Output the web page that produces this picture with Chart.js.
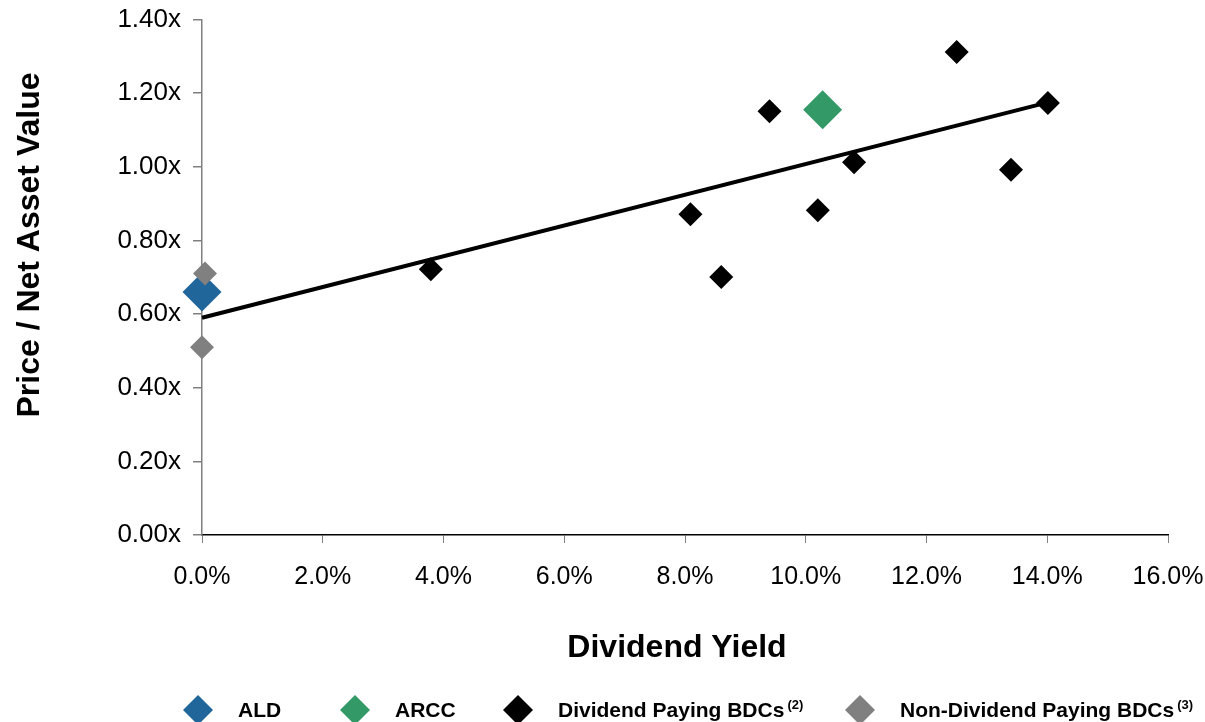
<!DOCTYPE html>
<html>
<head>
<meta charset="utf-8">
<script src="https://cdn.jsdelivr.net/npm/chart.js@4.4.1/dist/chart.umd.min.js"></script>
<style>
  html, body { margin: 0; padding: 0; background: #fff; }
</style>
</head>
<body>
<canvas id="pnav" width="1205" height="722"></canvas>
<script>
// ---- data ----
const aldX = [0.0];
const aldY = [0.66];

const arccX = [10.28];
const arccY = [1.155];

const divBdcX = [3.79, 8.09, 8.60, 9.40, 10.20, 10.80, 12.50, 13.40, 14.01];
const divBdcY = [0.722, 0.871, 0.701, 1.151, 0.882, 1.012, 1.312, 0.992, 1.173];

const nonDivX = [0.05, 0.0];
const nonDivY = [0.71, 0.51];

// trend line end points
const trendX = [0.0, 14.01];
const trendY = [0.59, 1.175];

const xTicks = [0, 2, 4, 6, 8, 10, 12, 14, 16];
const yTicks = [0, 0.2, 0.4, 0.6, 0.8, 1.0, 1.2, 1.4];

const legendNames = ["ALD", "ARCC", "Dividend Paying BDCs", "Non-Dividend Paying BDCs"];
const legendNotes = ["", "", "(2)", "(3)"];

const xTitle = "Dividend Yield";
const yTitle = "Price / Net Asset Value";

const FONT = "'Liberation Sans', Arial, sans-serif";
const BLUE = "#20669A";
const GREEN = "#339966";
const GREY = "#808080";

const toPts = (xs, ys) => xs.map((x, i) => ({ x: x, y: ys[i] }));

// titles + legend drawn straight on the canvas
const overlay = {
  id: "overlay",
  afterDraw(chart) {
    const ctx = chart.ctx;
    ctx.save();
    ctx.fillStyle = "#000";
    ctx.font = "bold 32px " + FONT;
    ctx.textAlign = "center";
    ctx.textBaseline = "alphabetic";
    ctx.fillText(xTitle, 677, 657);

    ctx.save();
    ctx.translate(39, 245);
    ctx.rotate(-Math.PI / 2);
    ctx.fillText(yTitle, 0, 0);
    ctx.restore();

    // legend
    const colors = [BLUE, GREEN, "#000", GREY];
    const itemX = [183, 340, 503, 845];
    const cy = 710;
    ctx.textAlign = "left";
    legendNames.forEach((name, i) => {
      const lx = itemX[i];
      ctx.fillStyle = colors[i];
      ctx.beginPath();
      ctx.moveTo(lx, cy);
      ctx.lineTo(lx + 15, cy - 15);
      ctx.lineTo(lx + 30, cy);
      ctx.lineTo(lx + 15, cy + 15);
      ctx.closePath();
      ctx.fill();

      ctx.fillStyle = "#000";
      ctx.font = "bold 21px " + FONT;
      const tx = lx + 55;
      ctx.fillText(name, tx, 717);
      if (legendNotes[i]) {
        const w = ctx.measureText(name).width;
        ctx.font = "bold 13px " + FONT;
        ctx.fillText(legendNotes[i], tx + w + 3, 709);
      }
    });
    ctx.restore();
  }
};

new Chart("pnav", {
  data: {
    datasets: [
      {
        type: "scatter",
        label: "Non-Dividend Paying BDCs",
        data: toPts(nonDivX, nonDivY),
        pointStyle: "rectRot",
        pointRadius: 12,
        backgroundColor: GREY,
        borderWidth: 0,
        clip: false,
        order: 0
      },
      {
        type: "scatter",
        label: "ALD",
        data: toPts(aldX, aldY),
        pointStyle: "rectRot",
        pointRadius: 19.5,
        backgroundColor: BLUE,
        borderWidth: 0,
        clip: false,
        order: 1
      },
      {
        type: "scatter",
        label: "ARCC",
        data: toPts(arccX, arccY),
        pointStyle: "rectRot",
        pointRadius: 19.5,
        backgroundColor: GREEN,
        borderWidth: 0,
        clip: false,
        order: 2
      },
      {
        type: "scatter",
        label: "Dividend Paying BDCs",
        data: toPts(divBdcX, divBdcY),
        pointStyle: "rectRot",
        pointRadius: 12,
        backgroundColor: "#000",
        borderWidth: 0,
        clip: false,
        order: 3
      },
      {
        type: "line",
        label: "Trend",
        data: toPts(trendX, trendY),
        borderColor: "#000",
        borderWidth: 4,
        pointRadius: 0,
        fill: false,
        clip: false,
        order: 4
      }
    ]
  },
  options: {
    responsive: false,
    animation: false,
    layout: { padding: { left: 0, top: 15, right: 37, bottom: 0 } },
    plugins: {
      legend: { display: false },
      tooltip: { enabled: false }
    },
    scales: {
      x: {
        type: "linear",
        min: 0,
        max: 16,
        afterBuildTicks: (s) => { s.ticks = xTicks.map(v => ({ value: v })); },
        afterFit: (s) => {
          s.height = 187;
          s.paddingLeft = 0;
          s.paddingRight = 0;
        },
        grid: { drawOnChartArea: false, tickLength: 8, color: GREY },
        border: { color: "#000", width: 1.5 },
        ticks: {
          padding: 19,
          color: "#000",
          font: { family: FONT, size: 25 },
          maxRotation: 0,
          callback: (v) => Number(v).toFixed(1) + "%"
        }
      },
      y: {
        type: "linear",
        min: 0,
        max: 1.4,
        afterBuildTicks: (s) => { s.ticks = yTicks.map(v => ({ value: v })); },
        afterFit: (s) => {
          s.width = 202;
          s.paddingTop = 0;
          s.paddingBottom = 0;
        },
        grid: { drawOnChartArea: false, tickLength: 9, color: GREY, lineWidth: 1.5 },
        border: { color: GREY, width: 1.5 },
        ticks: {
          padding: 12,
          color: "#000",
          font: { family: FONT, size: 26, lineHeight: 0.9 },
          callback: (v) => Number(v).toFixed(2) + "x"
        }
      }
    }
  },
  plugins: [overlay]
});
</script>
</body>
</html>
